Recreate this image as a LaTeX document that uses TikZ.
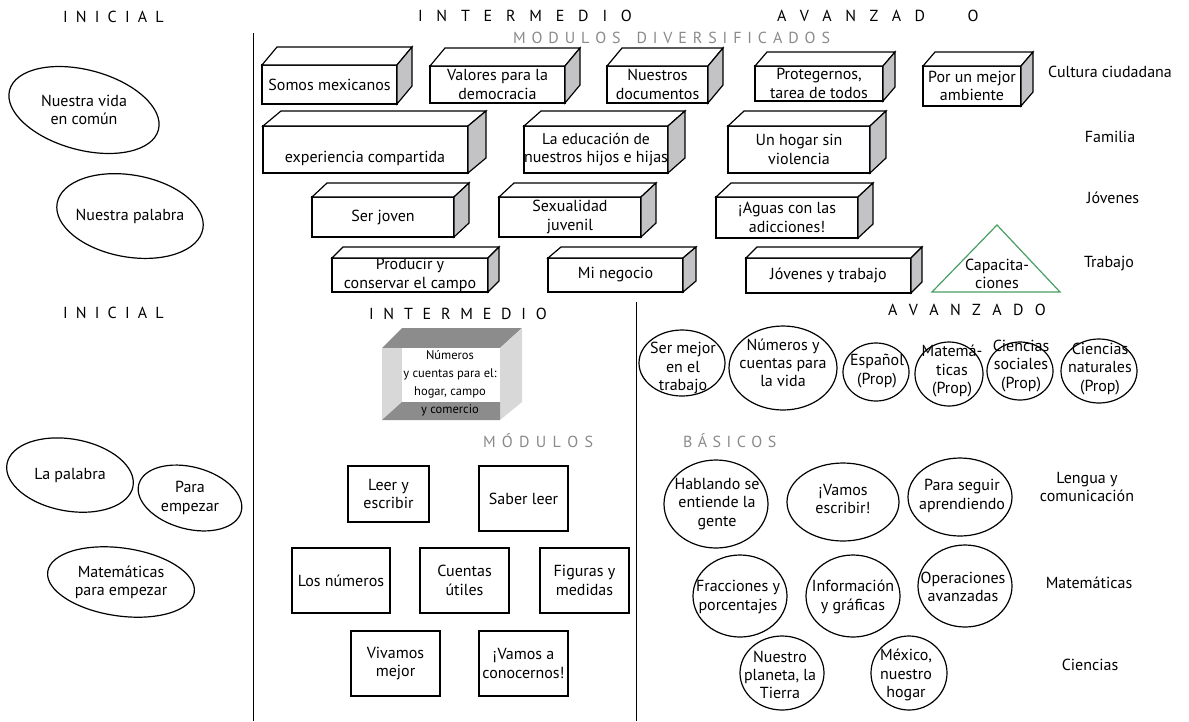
\documentclass[tikz,border=0pt]{standalone}
\usepackage{fontspec}
\setmainfont{PT Sans}
\usetikzlibrary{calc}
\definecolor{sidegray}{RGB}{195,195,197}
\definecolor{headgray}{RGB}{138,138,138}
\definecolor{roofgray}{RGB}{140,140,140}
\definecolor{wallgray}{RGB}{216,216,216}
\definecolor{capgreen}{RGB}{72,158,98}

% word spacing for the tracked headings
\newcommand\trk[1]{\spaceskip=#1pt\relax}

% front face with text, white top face, grey side face
\newcommand\boxcube[8]{%
  \node[front, minimum width={#4-#2}, minimum height={#5-#3}] (#1) at (#2,#3) {#8};
  \draw[face] (#1.north west) -- ++(#6,#7) -- ($(#1.north east)+(#6,#7)$) -- (#1.north east) -- cycle;
  \draw[face, fill=sidegray] (#1.north east) -- ++(#6,#7) -- ($(#1.south east)+(#6,#7)$) -- (#1.south east) -- cycle;
}

\begin{document}
\begin{tikzpicture}[x=1pt, y=-1pt,
  every node/.style={inner sep=0pt, outer sep=0pt, text=black},
  txt/.style={font={\fontsize{16}{18.3}\selectfont}, align=center},
  front/.style={txt, draw, line width=1.2pt, fill=white, anchor=north west},
  face/.style={draw, line width=1.2pt, fill=white, line join=miter},
  plain/.style={txt, draw, line width=1.2pt, anchor=north west},
  rim/.style={line width=1.2pt},
  hd/.style={anchor=base west, font={\fontsize{16}{18}\selectfont\trk{#1}}},
  ghd/.style={hd=#1, text=headgray},
  divider/.style={line width=1pt}]
\useasboundingbox (0,0) rectangle (1189,721);

% ---------- headings ----------
\node[hd=8.2]  (ini1) at (63,22)  {I N I C I A L};
\node[hd=13.8] (int1) at (418,21) {I N T E R M E D I O};
\node[hd=13.5] (ava1) at (777,21) {A V A N Z A D\hspace{29pt} O};
\node[ghd=5.9] (mdiv) at (513,43) {M O D U L O S\hspace{10pt} D I V E R S I F I C A D O S};
\node[hd=8.2]  (ini2) at (63,318) {I N I C I A L};
\node[hd=9.8] (int2) at (369,319) {I N T E R M E D I O};
\node[hd=11.4] (ava2) at (888,315) {A V A N Z A D O};
\node[ghd=6.3] (modb) at (483,447) {M Ó D U L O S};
\node[ghd=5.5] (basb) at (683,447) {B Á S I C O S};

% ---------- dividers ----------
\coordinate (d1t) at (253,33);  \coordinate (d1b) at (253,721);
\coordinate (d2t) at (636,302); \coordinate (d2b) at (636,721);
\draw[divider] (d1t) -- (d1b);
\draw[divider] (d2t) -- (d2b);

% ---------- inicial (upper) ----------
\node[txt] (nvc) at (84,110) {Nuestra vida\\en común};
\draw[rim, rotate around={-15:(nvc.center)}] (nvc.center) ellipse [x radius=77, y radius=40];
\node[txt] (npa) at (130,216) {Nuestra palabra};
\draw[rim, rotate around={-10:(npa.center)}] (npa.center) ellipse [x radius=74, y radius=41];

% ---------- diversified modules ----------
\boxcube{sm}{262}{65}{397}{104}{15}{-18}{Somos mexicanos}
\boxcube{vd}{430}{66}{565}{103}{15}{-18}{Valores para la\\democracia}
\boxcube{nd}{607}{66}{708}{103}{15}{-18}{Nuestros\\documentos}
\boxcube{pt}{755}{66}{883}{101}{12}{-14}{Protegernos,\\tarea de todos}
\boxcube{pm}{923}{66}{1021}{106}{12}{-14}{Por un mejor\\ambiente}

\boxcube{ec}{263}{126}{468}{173}{18}{-15}{}
\node[txt] (ectx) at (365,158) {experiencia compartida};
\boxcube{ed}{524}{126}{665}{173}{17}{-15}{\fontsize{15.6}{18.3}\selectfont La educación de\\nuestros hijos e hijas}
\boxcube{hv}{728}{126}{870}{173}{16}{-15}{Un hogar sin\\violencia}

\boxcube{sj}{312}{197}{454}{237}{15}{-14}{Ser joven}
\boxcube{sx}{499}{197}{641}{237}{15}{-14}{Sexualidad\\juvenil}
\boxcube{ag}{716}{197}{858}{238}{15}{-14}{¡Aguas con las\\adicciones!}

\boxcube{pc}{332}{258}{488}{292}{11}{-11}{Producir y\\conservar el campo}
\boxcube{mn}{548}{258}{683}{292}{13}{-11}{Mi negocio}
\boxcube{jt}{746}{258}{911}{293}{11}{-11}{Jóvenes y trabajo}

\coordinate (capA) at (997,225);
\coordinate (capB) at (932,292);
\coordinate (capC) at (1060,292);
\draw[capgreen, line width=1.2pt, line join=miter] (capA) -- (capB) -- (capC) -- cycle;
\node[txt] (cap) at (997,274) {Capacita-\\ciones};

\node[txt] (lcc) at (1110,72)  {Cultura ciudadana};
\node[txt] (lfa) at (1110,137) {Familia};
\node[txt] (ljo) at (1113,198) {Jóvenes};
\node[txt] (ltr) at (1109,264) {Trabajo};

% ---------- inicial (lower) ----------
\node[txt] (lpa) at (70,475) {La palabra};
\draw[rim, rotate around={-10:(lpa.center)}] (lpa.center) ellipse [x radius=64, y radius=36];
\node[txt] (pem) at (190,498) {Para\\empezar};
\draw[rim, rotate around={-15:(pem.center)}] (pem.center) ellipse [x radius=53, y radius=31];
\node[txt] (mpe) at (121,582) {Matemáticas\\para empezar};
\draw[rim, rotate around={-8:(mpe.center)}] (mpe.center) ellipse [x radius=74, y radius=34];

% ---------- intermedio: open box ----------
\fill[roofgray] (382,348) -- (402,328) -- (522,328) -- (500,348) -- cycle;
\fill[wallgray] (500,348) -- (522,328) -- (522,402) -- (500,420) -- cycle;
\fill[wallgray] (382,348) -- (402,348) -- (402,402) -- (382,420) -- cycle;
\fill[roofgray] (382,420) -- (402,402) -- (500,402) -- (500,420) -- cycle;
\fill[white] (402,348) rectangle (500,402);
\node[align=center, font={\fontsize{12.5}{18}\selectfont}] (ncb) at (450,383)
  {Números\\y cuentas para el:\\hogar, campo\\y comercio};

% ---------- basic modules (intermedio) ----------
\node[plain, minimum width=81, minimum height=56] (ley) at (348,466) {Leer y\\escribir};
\node[plain, minimum width=89, minimum height=65] (sab) at (479,466) {Saber leer};
\node[plain, minimum width=98, minimum height=65] (lnu) at (292,548) {Los números};
\node[plain, minimum width=89, minimum height=65] (cue) at (420,548) {Cuentas\\útiles};
\node[plain, minimum width=89, minimum height=65] (fig) at (540,548) {Figuras y\\medidas};
\node[plain, minimum width=89, minimum height=65] (viv) at (351,631) {Vivamos\\mejor};
\node[plain, minimum width=89, minimum height=65] (vam) at (479,631) {¡Vamos a\\conocernos!};

% ---------- avanzado ----------
\node[txt] (smt) at (683,368) {Ser mejor\\en el\\trabajo};
\draw[rim] (682,363) ellipse [x radius=43, y radius=33];
\node[txt] (ncv) at (783,363) {Números y\\cuentas para\\la vida};
\draw[rim] (783,368) ellipse [x radius=54, y radius=42];
\node[txt] (esp) at (877,371) {Español\\(Prop)};
\draw[rim] (876,372) ellipse [x radius=33, y radius=29];
\node[txt] (mat) at (952,371) {Matemá-\\ticas\\(Prop)};
\draw[rim] (949,374) ellipse [x radius=34, y radius=32];
\node[txt] (csp) at (1021,366) {Ciencias\\sociales\\(Prop)};
\draw[rim] (1020,371) ellipse [x radius=33, y radius=29];
\node[txt] (cnp) at (1100,369) {Ciencias\\naturales\\(Prop)};
\draw[rim] (1099,371) ellipse [x radius=38, y radius=32];

% ---------- basicos ----------
\node[txt] (hab) at (717,504) {Hablando se\\entiende la\\gente};
\draw[rim] (716,504) ellipse [x radius=52, y radius=44];
\node[txt] (ves) at (843,499) {¡Vamos\\escribir!};
\draw[rim] (843,502) ellipse [x radius=56, y radius=39];
\node[txt] (psa) at (962,496) {Para seguir\\aprendiendo};
\draw[rim] (960,497) ellipse [x radius=52, y radius=39];
\node[txt] (fra) at (738,597) {Fracciones y\\porcentajes};
\draw[rim] (740,596) ellipse [x radius=47, y radius=41];
\node[txt] (inf) at (853,597) {Información\\y gráficas};
\draw[rim] (853,596) ellipse [x radius=47, y radius=41];
\node[txt] (opa) at (963,587) {Operaciones\\avanzadas};
\draw[rim] (965,586) ellipse [x radius=47, y radius=41];
\node[txt] (npt) at (780,675) {Nuestro\\planeta, la\\Tierra};
\draw[rim] (782,673) ellipse [x radius=42, y radius=37];
\node[txt] (mnh) at (906,675) {México,\\nuestro\\hogar};
\draw[rim] (909,673) ellipse [x radius=38, y radius=37];

\node[txt] (llc) at (1087,487) {Lengua y\\comunicación};
\node[txt] (lma) at (1089,583) {Matemáticas};
\node[txt] (lci) at (1090,665) {Ciencias};
\end{tikzpicture}
\end{document}
